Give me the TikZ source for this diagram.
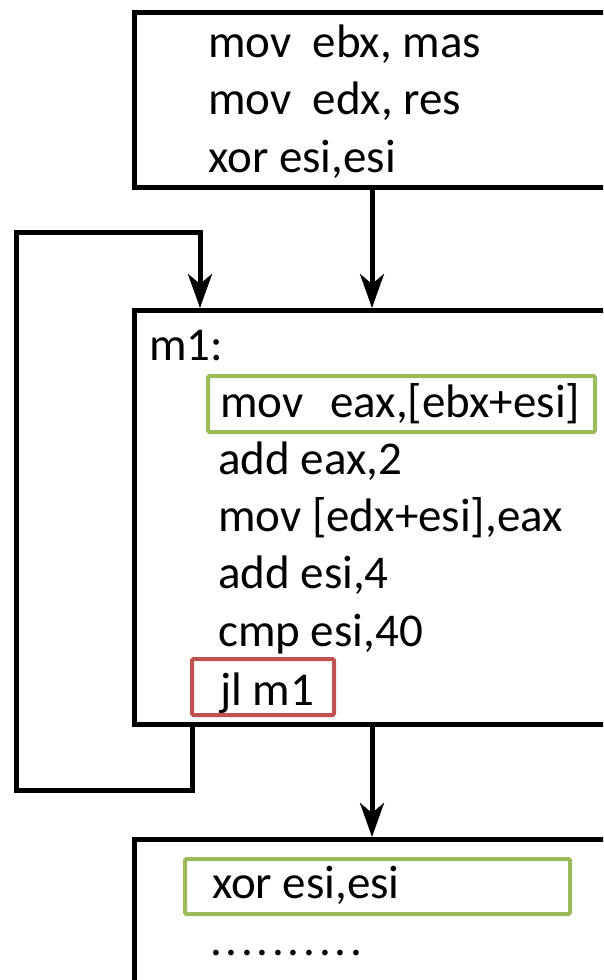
\documentclass[tikz,border=0pt]{standalone}
\usepackage{fontspec}
\setmainfont{Carlito}
\usetikzlibrary{arrows.meta}
\definecolor{hlgreen}{HTML}{9BBB59}
\definecolor{hlred}{HTML}{C0504D}
\begin{document}
\begin{tikzpicture}[x=1pt,y=-1pt,
  blk/.style={draw, line width=5pt, inner sep=0pt, anchor=north west, minimum width=490pt},
  txt/.style={anchor=base west, inner sep=0pt, font=\fontsize{47}{57}\selectfont},
  hl/.style={txt, line width=4pt, rounded corners=1.5pt, inner xsep=12pt},
  conn/.style={line width=5pt, -{Stealth[length=34pt,width=24pt,inset=10pt]}}]
\useasboundingbox (0,0) rectangle (603,980);
\clip (0,0) rectangle (603,980);
% blocks
\node[blk, minimum height=175pt] (b1) at (132,10) {};
\node[blk, minimum height=414pt] (b2) at (132,308) {};
\node[blk, minimum height=200pt] (b3) at (132,837) {};
% top block text
\node[txt] (t1) at (208,57) {mov\ \ ebx, mas};
\node[txt] (t2) at (208,114) {mov\ \ edx, res};
\node[txt] (t3) at (208,172) {xor esi,esi};
% loop block text
\node[txt] (m1) at (149,360) {m1:};
\node[hl, draw=hlgreen, text height=41pt, text depth=15pt] (g1) at (206,417)
  {\makebox[363pt][l]{mov\hspace{27pt}eax,[ebx+esi]}};
\node[txt] (l2) at (218,474) {add eax,2};
\node[txt] (l3) at (218,531) {mov [edx+esi],eax};
\node[txt] (l4) at (218,588) {add esi,4};
\node[txt] (l5) at (218,646) {cmp esi,40};
\node[hl, draw=hlred, text height=46pt, text depth=10pt] (r1) at (190,705)
  {\makebox[118pt][l]{\hspace{16pt}jl m1}};
% bottom block text
\node[hl, draw=hlgreen, text height=39pt, text depth=16pt] (g2) at (183,898)
  {\makebox[361pt][l]{\hspace{15pt}xor esi,esi}};
\node[txt, anchor=base west] (dots) at (210,955)
  {\hbox to 152pt{.\hfill.\hfill.\hfill.\hfill.\hfill.\hfill.\hfill.\hfill.\hfill.}};
% connectors
\coordinate (xm) at (372,0);
\coordinate (xl) at (192,0);
\coordinate (xr) at (200,0);
\coordinate (c1) at (192,790);
\coordinate (c2) at (16,790);
\coordinate (c3) at (16,232);
\coordinate (c4) at (200,232);
\draw[conn] (b1.south -| xm) -- (b2.north -| xm);
\draw[conn] (b2.south -| xm) -- (b3.north -| xm);
\draw[conn] (b2.south -| xl) -- (c1) -- (c2) -- (c3) -- (c4) -- (b2.north -| xr);
\end{tikzpicture}
\end{document}
